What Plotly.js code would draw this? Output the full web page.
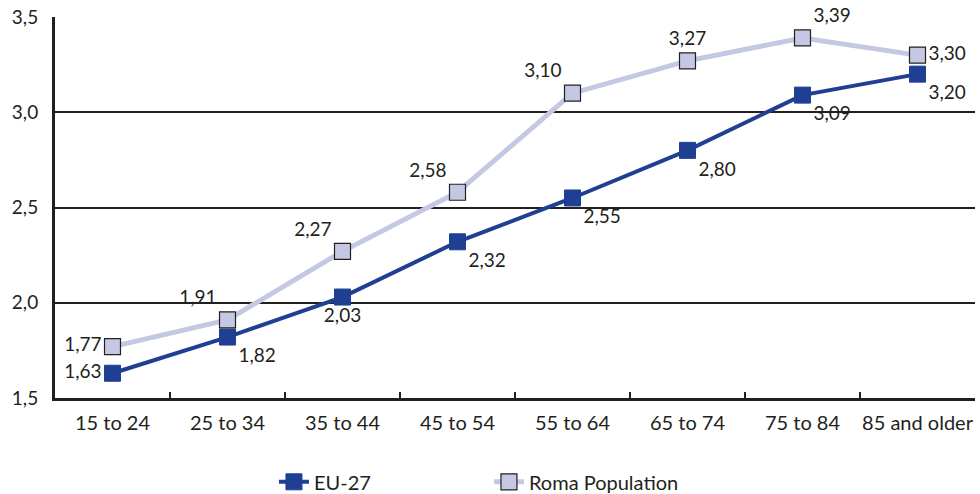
<!DOCTYPE html>
<html>
<head>
<meta charset="utf-8">
<script src="https://cdn.plot.ly/plotly-3.0.1.min.js"></script>
<style>html,body{margin:0;padding:0;background:#fff}#chart{width:980px;height:494px}</style>
</head>
<body>
<div id="chart"></div>
<script>
const categories = ["15 to 24","25 to 34","35 to 44","45 to 54","55 to 64","65 to 74","75 to 84","85 and older"];
const eu27 = [1.63,1.82,2.03,2.32,2.55,2.80,3.09,3.20];
const roma = [1.77,1.91,2.27,2.58,3.10,3.27,3.39,3.30];
const euPos = ["middle left","bottom right","bottom center","bottom right","bottom right","bottom right","bottom right","bottom right"];
const romaPos = ["middle left","top left","top left","top left","top left","top center","top right","middle right"];
const fmt = v => v.toFixed(2).replace(".", ",");
const font = "Lato, Noto Sans, sans-serif";
const txtCol = "#231f20";

const traces = [
  {x: categories, y: eu27, name: "EU-27", type: "scatter", mode: "lines+markers+text",
   line: {color: "#1f3f93", width: 4},
   marker: {symbol: "square", size: 16, color: "#1f3f93", line: {color: "#1f3f93", width: 1}},
   text: eu27.map(fmt), textposition: euPos, textfont: {family: font, size: 19, color: txtCol},
   cliponaxis: false},
  {x: categories, y: roma, name: "Roma Population", type: "scatter", mode: "lines+markers+text",
   line: {color: "#c5c8e2", width: 5},
   marker: {symbol: "square", size: 16, color: "#c5c8e2", line: {color: "#231f20", width: 1.2}},
   text: roma.map(fmt), textposition: romaPos, textfont: {family: font, size: 19, color: txtCol},
   cliponaxis: false}
];

const layout = {
  width: 980, height: 494,
  margin: {l: 55, r: 5, t: 17, b: 96, autoexpand: false},
  paper_bgcolor: "#fff", plot_bgcolor: "#fff",
  font: {family: font, size: 19, color: txtCol},
  showlegend: true,
  legend: {orientation: "h", x: 0.238, xanchor: "left", y: -0.22, yanchor: "middle",
           font: {family: font, size: 20, color: txtCol}, entrywidth: 170, entrywidthmode: "pixels",
           traceorder: "normal"},
  xaxis: {type: "category", tickson: "boundaries", ticks: "inside", ticklen: 6, tickwidth: 2,
          tickcolor: "#231f20", showline: true, linecolor: "#231f20", linewidth: 3,
          showgrid: false, zeroline: false, tickfont: {family: font, size: 20, color: txtCol},
          tickangle: 0, automargin: false, range: [-0.5, 7.5], ticklabelstandoff: 5},
  yaxis: {range: [1.5, 3.5], dtick: 0.5, tickformat: ".1f",
          showline: true, linecolor: "#231f20", linewidth: 3, ticks: "",
          showgrid: true, gridcolor: "#231f20", gridwidth: 2, zeroline: false, automargin: false,
          tickfont: {family: font, size: 19, color: txtCol}, ticklabelstandoff: 10},
  separators: ", "
};

Plotly.newPlot("chart", traces, layout, {displayModeBar: false, staticPlot: true});
</script>
</body>
</html>
